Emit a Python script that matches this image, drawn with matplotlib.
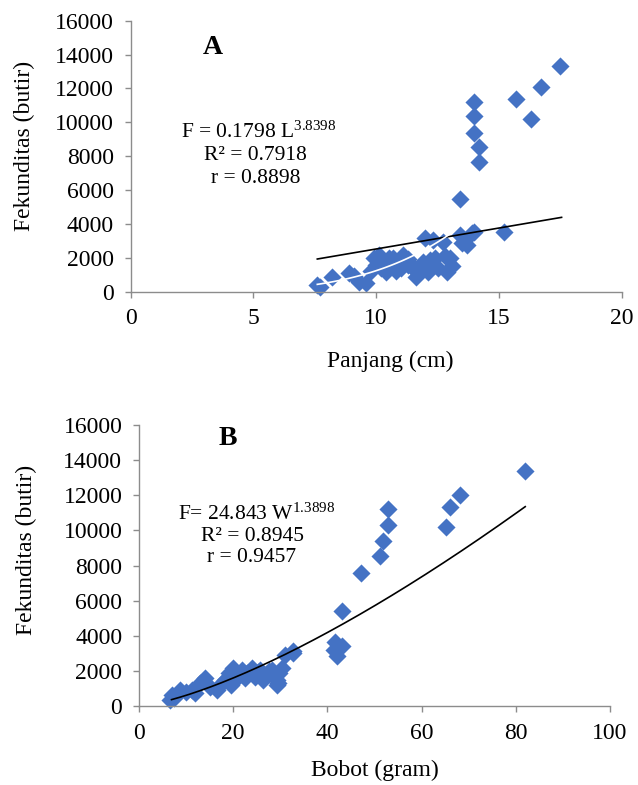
import numpy as np
import matplotlib
matplotlib.use("Agg")
import matplotlib.pyplot as plt

# ==========================================
# DATA
# ==========================================
# Panel A: length (cm) vs fecundity (eggs)
panjang_a = [7.6, 7.7, 8.2, 8.9, 9.1, 9.3, 9.6, 9.8, 9.9, 10.0,
             10.1, 10.2, 10.3, 10.4, 10.5, 10.6, 10.7, 10.8, 10.9, 11.0,
             11.1, 11.2, 11.3, 11.4, 11.5, 11.6, 11.8, 11.9, 12.0, 12.1,
             12.2, 12.3, 12.4, 12.5, 12.7, 12.8, 12.9, 13.0, 13.1, 13.4,
             13.5, 13.7, 13.9, 14.0, 15.2, 13.4, 14.0, 14.0, 14.0, 14.2,
             14.2, 15.7, 16.3, 16.7, 17.5, 10.2, 10.6, 11.3, 11.7, 12.2]
fek_a = [400, 300, 880, 1090, 900, 600, 500, 1200, 1970, 1600,
         2170, 1400, 1800, 1180, 2000, 1500, 1970, 1250, 1700, 1380,
         2170, 1900, 1600, 1580, 1400, 890, 1500, 1780, 3150, 1180,
         1900, 3050, 1970, 1400, 2950, 2100, 1180, 1970, 1500, 3350,
         2900, 2760, 3450, 3540, 3510, 5480, 11190, 10360, 9400, 8570,
         7680, 11370, 10180, 12080, 13350, 1750, 1700, 1950, 1100, 1600]

# Panel B: weight (g) vs fecundity (eggs)
bobot_b = [6.6, 6.9, 7.5, 8.7, 10.0, 11.2, 11.9, 13.0, 14.0, 15.0,
           16.5, 17.6, 18.3, 19.0, 19.5, 20.0, 20.4, 21.0, 21.8, 22.5,
           23.0, 23.9, 24.6, 25.2, 25.7, 26.3, 26.8, 27.5, 28.2, 28.8,
           29.2, 29.2, 29.6, 29.8, 30.3, 31.0, 32.6, 32.8, 41.3, 41.6,
           42.0, 43.0, 43.1, 47.1, 51.2, 51.8, 52.9, 52.9, 65.2, 66.0,
           68.1, 82.0]
fek_b = [340, 630, 450, 910, 800, 910, 730, 1300, 1580, 1100,
         910, 1300, 1500, 1870, 1200, 2150, 1490, 1750, 2060, 1580,
         1900, 2150, 1670, 1950, 2060, 1500, 1670, 2000, 2060, 1700,
         1490, 1200, 1300, 1870, 2150, 2910, 3140, 3010, 3200, 3670,
         2820, 3390, 5430, 7600, 8570, 9370, 10290, 11200, 10170, 11310,
         12000, 13370]

# trend lines
linear_a_x = [7.6, 17.55]
linear_a_y = [1930, 4390]
power_a = (0.1798, 3.8398)
power_a_range = (7.6, 12.95)
power_b = (24.843, 1.3898)
power_b_range = (6.9, 82.0)

# ==========================================
# STYLE
# ==========================================
plt.rcParams['font.family'] = ['Liberation Serif', 'DejaVu Serif']
plt.rcParams['mathtext.fontset'] = 'custom'
plt.rcParams['mathtext.rm'] = 'Liberation Serif'
plt.rcParams['mathtext.it'] = 'Liberation Serif:italic'

BLUE = '#4472C4'
GREY = '#8C8C8C'
TICK_FS = 17
LABEL_FS = 17
EQ_FS = 15.5
MARKER_S = 85


def style_axes(ax, xmax, xstep):
    ax.set_xlim(0, xmax)
    ax.set_ylim(0, 16000)
    ax.set_xticks(np.arange(0, xmax + 1, xstep))
    ax.set_yticks(np.arange(0, 16001, 2000))
    for side in ['top', 'right']:
        ax.spines[side].set_visible(False)
    for side in ['left', 'bottom']:
        ax.spines[side].set_color(GREY)
        ax.spines[side].set_linewidth(1.0)
    ax.tick_params(direction='out', length=4, width=1.0, color=GREY,
                   labelsize=TICK_FS, pad=8)


fig = plt.figure(figsize=(6.38, 7.85), dpi=100)

# ---------------- Panel A ----------------
ax_a = fig.add_axes([0.2049, 0.6284, 0.7696, 0.3452])
ax_a.scatter(panjang_a, fek_a, marker='D', s=MARKER_S, color=BLUE,
             linewidths=0, zorder=2, clip_on=False)
ax_a.plot(linear_a_x, linear_a_y, color='black', lw=1.2, zorder=3)
xa = np.linspace(power_a_range[0], power_a_range[1], 100)
ax_a.plot(xa, power_a[0] * xa ** power_a[1], color='white', lw=1.2, zorder=3)
style_axes(ax_a, 20, 5)

ax_a.text(-0.217, 0.538, 'Fekunditas (butir)', rotation=90, ha='center',
          va='center', fontsize=LABEL_FS, transform=ax_a.transAxes)
ax_a.text(0.528, -0.259, 'Panjang (cm)', ha='center', va='center',
          fontsize=LABEL_FS, transform=ax_a.transAxes)
ax_a.text(3.35, 14390, 'A', fontsize=20, fontweight='bold',
          ha='center', va='center')
ax_a.text(2.05, 9446, r'F = 0.1798 L$^{3.8398}$', fontsize=EQ_FS,
          ha='left', va='center')
ax_a.text(5.1, 8071, 'R² = 0.7918', fontsize=EQ_FS, ha='center', va='center')
ax_a.text(5.1, 6695, 'r = 0.8898', fontsize=EQ_FS, ha='center', va='center')

# ---------------- Panel B ----------------
ax_b = fig.add_axes([0.2179, 0.1006, 0.7382, 0.3580])
ax_b.scatter(bobot_b, fek_b, marker='D', s=MARKER_S, color=BLUE,
             linewidths=0, zorder=2, clip_on=False)
xb = np.linspace(power_b_range[0], power_b_range[1], 200)
ax_b.plot(xb, power_b[0] * xb ** power_b[1], color='black', lw=1.2, zorder=3)
style_axes(ax_b, 100, 20)

ax_b.text(-0.238, 0.557, 'Fekunditas (butir)', rotation=90, ha='center',
          va='center', fontsize=LABEL_FS, transform=ax_b.transAxes)
ax_b.text(0.5, -0.229, 'Bobot (gram)', ha='center', va='center',
          fontsize=LABEL_FS, transform=ax_b.transAxes)
ax_b.text(18.9, 15250, 'B', fontsize=20, fontweight='bold',
          ha='center', va='center')
ax_b.text(8.28, 10914, r'F= 24.843 W$^{1.3898}$', fontsize=EQ_FS,
          ha='left', va='center')
ax_b.text(24.0, 9674, 'R² = 0.8945', fontsize=EQ_FS, ha='center', va='center')
ax_b.text(24.0, 8440, 'r = 0.9457', fontsize=EQ_FS, ha='center', va='center')

plt.savefig('out.png', dpi=100)
